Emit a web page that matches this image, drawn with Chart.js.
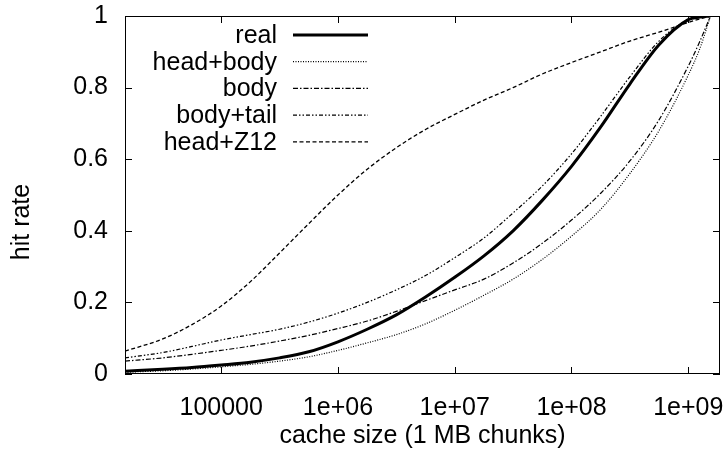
<!DOCTYPE html>
<html>
<head>
<meta charset="utf-8">
<script src="https://cdn.jsdelivr.net/npm/chart.js@4.4.1/dist/chart.umd.min.js"></script>
<style>
  html, body { margin: 0; padding: 0; background: #fff; }
  #wrap { width: 727px; height: 451px; }
</style>
</head>
<body>
<div id="wrap"><canvas id="hitChart" width="727" height="451"></canvas></div>
<script>
// cache sizes (1 MB chunks) where the curves were read
const cacheSizes = [15000, 31600, 56200, 100000, 178000, 316000, 562000, 1e6, 1.78e6, 3.16e6, 5.62e6,
  1e7, 1.78e7, 3.16e7, 5.62e7, 1e8, 1.78e8, 3.16e8, 5.62e8, 1e9, 1.26e9, 1.55e9];

const realRate     = [0.008, 0.013, 0.018, 0.025, 0.033, 0.045, 0.062, 0.09, 0.125, 0.165, 0.215,
  0.27, 0.33, 0.40, 0.485, 0.58, 0.69, 0.81, 0.92, 0.99, 0.997, 1.0];
const headBodyRate = [0.005, 0.009, 0.014, 0.02, 0.027, 0.036, 0.048, 0.066, 0.087, 0.11, 0.14,
  0.178, 0.22, 0.265, 0.32, 0.385, 0.46, 0.56, 0.68, 0.835, 0.91, 1.0];
const bodyRate     = [0.036, 0.045, 0.055, 0.066, 0.078, 0.092, 0.108, 0.127, 0.148, 0.175, 0.205,
  0.235, 0.265, 0.31, 0.365, 0.43, 0.505, 0.595, 0.71, 0.86, 0.93, 1.0];
const bodyTailRate = [0.045, 0.06, 0.077, 0.095, 0.11, 0.125, 0.145, 0.17, 0.20, 0.235, 0.275,
  0.325, 0.38, 0.45, 0.525, 0.615, 0.72, 0.83, 0.93, 0.99, 0.997, 1.0];
const headZ12Rate  = [0.064, 0.098, 0.138, 0.19, 0.258, 0.338, 0.42, 0.5, 0.572, 0.632, 0.683,
  0.725, 0.765, 0.80, 0.838, 0.87, 0.90, 0.93, 0.955, 0.982, 0.992, 1.0];

const seriesLabels = ["real", "head+body", "body", "body+tail", "head+Z12"];
const xTickValues = [1e5, 1e6, 1e7, 1e8, 1e9];
const xTickLabels = ["100000", "1e+06", "1e+07", "1e+08", "1e+09"];
const yTickValues = [0, 0.2, 0.4, 0.6, 0.8, 1];
const yTickLabels = ["0", "0.2", "0.4", "0.6", "0.8", "1"];

const FONT = "'Liberation Sans', Arial, Helvetica, sans-serif";
const FSIZE = 25;

function pts(ys) {
  return cacheSizes.map((x, i) => ({ x: x, y: ys[i] }));
}

const lineStyles = [
  { borderWidth: 3, borderDash: [] },
  { borderWidth: 1.2, borderDash: [1, 1.5] },
  { borderWidth: 1.2, borderDash: [5, 2, 1.5, 2] },
  { borderWidth: 1.2, borderDash: [4, 2, 1.5, 2, 1.5, 2] },
  { borderWidth: 1.3, borderDash: [4, 2.5] }
];

const allRates = [realRate, headBodyRate, bodyRate, bodyTailRate, headZ12Rate];

// gnuplot-like frame, inward ticks, key and y label
const gnuplotFrame = {
  id: "gnuplotFrame",
  afterDraw(chart) {
    const { ctx, chartArea: a, scales } = chart;
    const tick = 7;
    ctx.save();
    ctx.strokeStyle = "#000";
    ctx.lineWidth = 1;
    ctx.strokeRect(a.left + 0.5, a.top + 0.5, a.right - a.left - 1, a.bottom - a.top - 1);
    ctx.beginPath();
    xTickValues.forEach(v => {
      const px = Math.round(scales.x.getPixelForValue(v)) + 0.5;
      ctx.moveTo(px, a.bottom); ctx.lineTo(px, a.bottom - tick);
      ctx.moveTo(px, a.top); ctx.lineTo(px, a.top + tick);
    });
    yTickValues.forEach(v => {
      const py = Math.round(scales.y.getPixelForValue(v)) + 0.5;
      ctx.moveTo(a.left, py); ctx.lineTo(a.left + tick, py);
      ctx.moveTo(a.right, py); ctx.lineTo(a.right - tick, py);
    });
    ctx.stroke();

    // key
    ctx.font = FSIZE + "px " + FONT;
    ctx.fillStyle = "#000";
    ctx.textAlign = "right";
    ctx.textBaseline = "middle";
    chart.data.datasets.forEach((ds, i) => {
      const y = 35 + i * 26.7;
      ctx.fillText(ds.label, 277, y + 1);
      ctx.beginPath();
      ctx.lineWidth = ds.borderWidth;
      ctx.setLineDash(ds.borderDash);
      ctx.moveTo(293, y);
      ctx.lineTo(368, y);
      ctx.stroke();
    });
    ctx.setLineDash([]);

    // y label, centred on the canvas like gnuplot does
    ctx.translate(22, 222);
    ctx.rotate(-Math.PI / 2);
    ctx.textAlign = "center";
    ctx.fillText("hit rate", 0, 0);
    ctx.restore();
  }
};

new Chart(document.getElementById("hitChart"), {
  type: "line",
  data: {
    datasets: seriesLabels.map((label, i) => ({
      label: label,
      data: pts(allRates[i]),
      borderColor: "#000",
      borderWidth: lineStyles[i].borderWidth,
      borderDash: lineStyles[i].borderDash,
      pointRadius: 0,
      fill: false,
      cubicInterpolationMode: "monotone"
    }))
  },
  options: {
    responsive: false,
    animation: false,
    devicePixelRatio: 1,
    layout: { padding: { top: 16, right: 7, left: 0, bottom: 0 } },
    plugins: {
      legend: { display: false },
      tooltip: { enabled: false }
    },
    scales: {
      x: {
        type: "logarithmic",
        min: 15000,
        max: 1.87e9,
        grid: { display: false, drawTicks: false },
        border: { display: false },
        afterBuildTicks: scale => { scale.ticks = xTickValues.map(v => ({ value: v })); },
        afterFit: scale => { scale.height = 77; scale.paddingLeft = 0; scale.paddingRight = 0; },
        ticks: {
          autoSkip: false,
          maxRotation: 0,
          padding: 19,
          color: "#000",
          font: { family: FONT, size: FSIZE },
          callback: v => xTickLabels[xTickValues.indexOf(v)] || ""
        },
        title: {
          display: true,
          text: "cache size (1 MB chunks)",
          color: "#000",
          font: { family: FONT, size: FSIZE },
          padding: { top: 0, bottom: 0 }
        }
      },
      y: {
        min: 0,
        max: 1,
        grid: { display: false, drawTicks: false },
        border: { display: false },
        afterBuildTicks: scale => { scale.ticks = yTickValues.map(v => ({ value: v })); },
        afterFit: scale => { scale.width = 125; scale.paddingTop = 0; scale.paddingBottom = 0; },
        ticks: {
          padding: 17,
          color: "#000",
          font: { family: FONT, size: FSIZE },
          callback: v => yTickLabels[yTickValues.indexOf(v)]
        }
      }
    }
  },
  plugins: [gnuplotFrame]
});
</script>
</body>
</html>
